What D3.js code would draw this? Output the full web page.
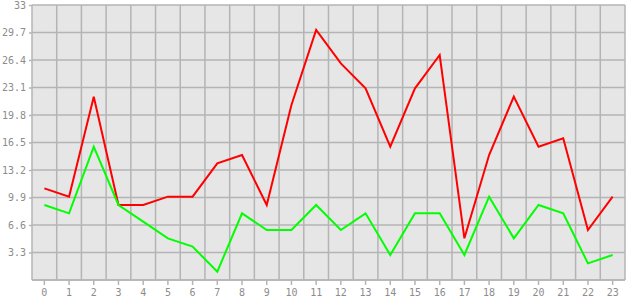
<!DOCTYPE html>
<html>
<head>
<meta charset="utf-8">
<script src="https://cdn.jsdelivr.net/npm/d3@7"></script>
<style>
  body { margin: 0; background: #fff; }
  svg { display: block; }
  .axis text { font-family: "DejaVu Sans Mono", monospace; font-size: 10px; fill: #8c8c8c; }
</style>
</head>
<body>
<div id="chart-area"></div>
<script>
// categories along the x axis
const categories = d3.range(0, 24);
// series values
const redValues = [11, 10, 22, 9, 9, 10, 10, 14, 15, 9, 21, 30, 26, 23, 16, 23, 27, 5, 15, 22, 16, 17, 6, 10];
const greenValues = [9, 8, 16, 9, 7, 5, 4, 1, 8, 6, 6, 9, 6, 8, 3, 8, 8, 3, 10, 5, 9, 8, 2, 3];
// y tick labels
const yTicks = [0, 3.3, 6.6, 9.9, 13.2, 16.5, 19.8, 23.1, 26.4, 29.7, 33];

const W = 630, H = 300;
const margins = { top: 5, right: 5, bottom: 20, left: 32 };
const width = W - margins.left - margins.right;
const height = H - margins.top - margins.bottom;

const svg = d3.select('#chart-area')
  .append('svg')
  .attr('width', W)
  .attr('height', H)
  .append('g')
  .attr('transform', `translate(${margins.left}, ${margins.top})`);

const x = d3.scaleBand().domain(categories).range([0, width]);
const y = d3.scaleLinear().domain([0, 33]).range([height, 0]);
const cx = d => x(d) + x.bandwidth() / 2;

// plot background
svg.append('rect')
  .attr('width', width)
  .attr('height', height)
  .attr('fill', '#e6e6e6');

const gridColor = '#b4b4b4';
// vertical grid at band boundaries
svg.append('g')
  .selectAll('line')
  .data(categories.slice(1).concat(['end']))
  .join('line')
  .attr('x1', d => d === 'end' ? width : x(d))
  .attr('x2', d => d === 'end' ? width : x(d))
  .attr('y1', 0)
  .attr('y2', height)
  .attr('stroke', gridColor)
  .attr('stroke-width', 1.5);

// horizontal grid
svg.append('g')
  .selectAll('line')
  .data(yTicks)
  .join('line')
  .attr('x1', 0)
  .attr('x2', width)
  .attr('y1', d => y(d))
  .attr('y2', d => y(d))
  .attr('stroke', gridColor)
  .attr('stroke-width', 1.5);

// y axis
const yAxis = svg.append('g')
  .attr('class', 'axis')
  .call(d3.axisLeft(y).tickValues(yTicks.slice(1)).tickSize(3).tickPadding(3).tickFormat(d => d));
yAxis.select('.domain').attr('stroke', gridColor).attr('stroke-width', 1.5).attr('d', `M0,0V${height}`);
yAxis.selectAll('.tick line').attr('stroke', gridColor).attr('stroke-width', 1.5);

// x axis
const xAxis = svg.append('g')
  .attr('class', 'axis')
  .attr('transform', `translate(0, ${height})`)
  .call(d3.axisBottom(x).tickSize(5).tickPadding(4));
xAxis.select('.domain').attr('stroke', gridColor).attr('stroke-width', 1.5).attr('d', `M0,0H${width}`);
xAxis.selectAll('.tick line').attr('stroke', gridColor).attr('stroke-width', 1.5);

// series lines
const line = d3.line()
  .x((d, i) => cx(categories[i]))
  .y(d => y(d));

[[redValues, '#ff0000'], [greenValues, '#00ff00']].forEach(([vals, col]) => {
  svg.append('path')
    .datum(vals)
    .attr('fill', 'none')
    .attr('stroke', col)
    .attr('stroke-width', 2)
    .attr('stroke-linejoin', 'miter')
    .attr('d', line);
});
</script>
</body>
</html>
